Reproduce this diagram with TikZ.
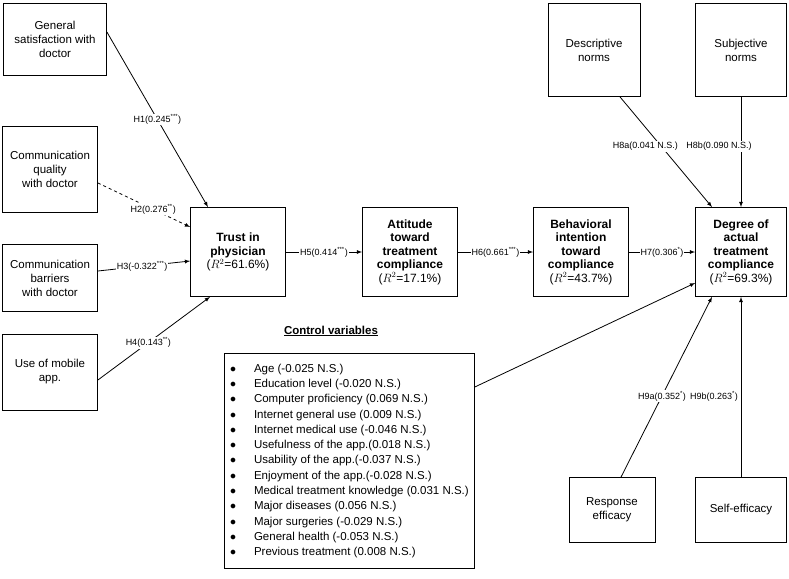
\documentclass[tikz,border=0pt]{standalone}
\usepackage{fontspec}
\setmainfont{Liberation Sans}
\usetikzlibrary{positioning}
\tikzset{
  var/.style={draw,thick,align=center,font=\fontsize{11.5}{14}\selectfont,inner sep=2pt},
  key/.style={var,font=\fontsize{12}{13.5}\selectfont\bfseries,minimum width=95pt,minimum height=89pt},
  hyp/.style={fill=white,inner sep=1pt,font=\fontsize{9}{10}\selectfont},
  path/.style={thick,-latex}
}
\begin{document}
\begin{tikzpicture}[x=1pt,y=-1pt]
\useasboundingbox (0,0) rectangle (789,578);

% predictors of trust
\node [var,minimum width=103pt,minimum height=72pt] (sat) at (55,39) {General\\satisfaction with\\doctor};
\node [var,minimum width=95pt,minimum height=86pt] (qual) at (50,169) {Communication\\quality\\with doctor};
\node [var,minimum width=95pt,minimum height=67pt] (barr) at (50,278) {Communication\\barriers\\with doctor};
\node [var,minimum width=95pt,minimum height=76pt] (app) at (50,372) {Use of mobile\\app.};

% main chain
\node [key] (trust) at (238,252) {Trust in\\physician\\{\mdseries($R^2$=61.6\%)}};
\node [key] (att) at (410,252) {Attitude\\toward\\treatment\\compliance\\{\mdseries($R^2$=17.1\%)}};
\node [key] (beh) at (581,252) {Behavioral\\intention\\toward\\compliance\\{\mdseries($R^2$=43.7\%)}};
\node [key,minimum width=91pt] (deg) at (741,252) {Degree of\\actual\\treatment\\compliance\\{\mdseries($R^2$=69.3\%)}};

% norms and efficacy
\node [var,minimum width=92pt,minimum height=93pt] (desc) at (594,50) {Descriptive\\norms};
\node [var,minimum width=91pt,minimum height=93pt] (subj) at (741,50) {Subjective\\norms};
\node [var,minimum width=86pt,minimum height=65pt] (resp) at (612,510) {Response\\efficacy};
\node [var,minimum width=91pt,minimum height=65pt] (self) at (741,510) {Self-efficacy};

% control variables
\node [font=\fontsize{11.5}{13}\selectfont\bfseries] (ctitle) at (331,331) {\underline{Control variables}};
\node [draw,thick,anchor=north west,minimum width=250pt,minimum height=215pt,inner sep=2pt,
  font=\fontsize{11.5}{15.3}\selectfont,align=left] (ctrl) at (224,353)
  {\begin{tabular}{@{}l@{\hspace{18pt}}l@{}}
  $\bullet$ & Age (-0.025 N.S.)\\
  $\bullet$ & Education level (-0.020 N.S.)\\
  $\bullet$ & Computer proficiency (0.069 N.S.)\\
  $\bullet$ & Internet general use (0.009 N.S.)\\
  $\bullet$ & Internet medical use (-0.046 N.S.)\\
  $\bullet$ & Usefulness of the app.(0.018 N.S.)\\
  $\bullet$ & Usability of the app.(-0.037 N.S.)\\
  $\bullet$ & Enjoyment of the app.(-0.028 N.S.)\\
  $\bullet$ & Medical treatment knowledge (0.031 N.S.)\\
  $\bullet$ & Major diseases (0.056 N.S.)\\
  $\bullet$ & Major surgeries (-0.029 N.S.)\\
  $\bullet$ & General health (-0.053 N.S.)\\
  $\bullet$ & Previous treatment (0.008 N.S.)
  \end{tabular}};

% paths
\draw [path] (sat.east|-0,32) -- ([xshift=-30pt]trust.north) node [hyp,pos=0.5] {H1(0.245\textsuperscript{***})};
\draw [path,dashed] (qual.east|-0,183) -- ([yshift=25pt]trust.west) node [hyp,pos=0.6] {H2(0.276\textsuperscript{**})};
\draw [path] (barr.east|-0,271) -- ([yshift=-9pt]trust.west) node [hyp,pos=0.48] {H3(-0.322\textsuperscript{***})};
\draw [path] (app.east|-0,380) -- ([xshift=-28pt]trust.south) node [hyp,pos=0.45] {H4(0.143\textsuperscript{**})};
\draw [path] (trust) -- (att) node [hyp,midway] {H5(0.414\textsuperscript{***})};
\draw [path] (att) -- (beh) node [hyp,midway] {H6(0.661\textsuperscript{***})};
\draw [path] (beh) -- (deg) node [hyp,midway] {H7(0.306\textsuperscript{*})};
\draw [path] ([xshift=26pt]desc.south) -- ([xshift=-29pt]deg.north) node [hyp,pos=0.45,xshift=-16pt] {H8a(0.041 N.S.)};
\draw [path] (subj) -- (deg) node [hyp,pos=0.45,xshift=-22pt] {H8b(0.090 N.S.)};
\draw [path] ([xshift=9pt]resp.north) -- ([xshift=-29pt]deg.south) node [hyp,pos=0.45] {H9a(0.352\textsuperscript{*})};
\draw [path] (self) -- (deg) node [hyp,pos=0.45,xshift=-27pt] {H9b(0.263\textsuperscript{*})};
\draw [path] (ctrl.east|-0,387) -- ([yshift=-31pt]deg.west);
\end{tikzpicture}
\end{document}
